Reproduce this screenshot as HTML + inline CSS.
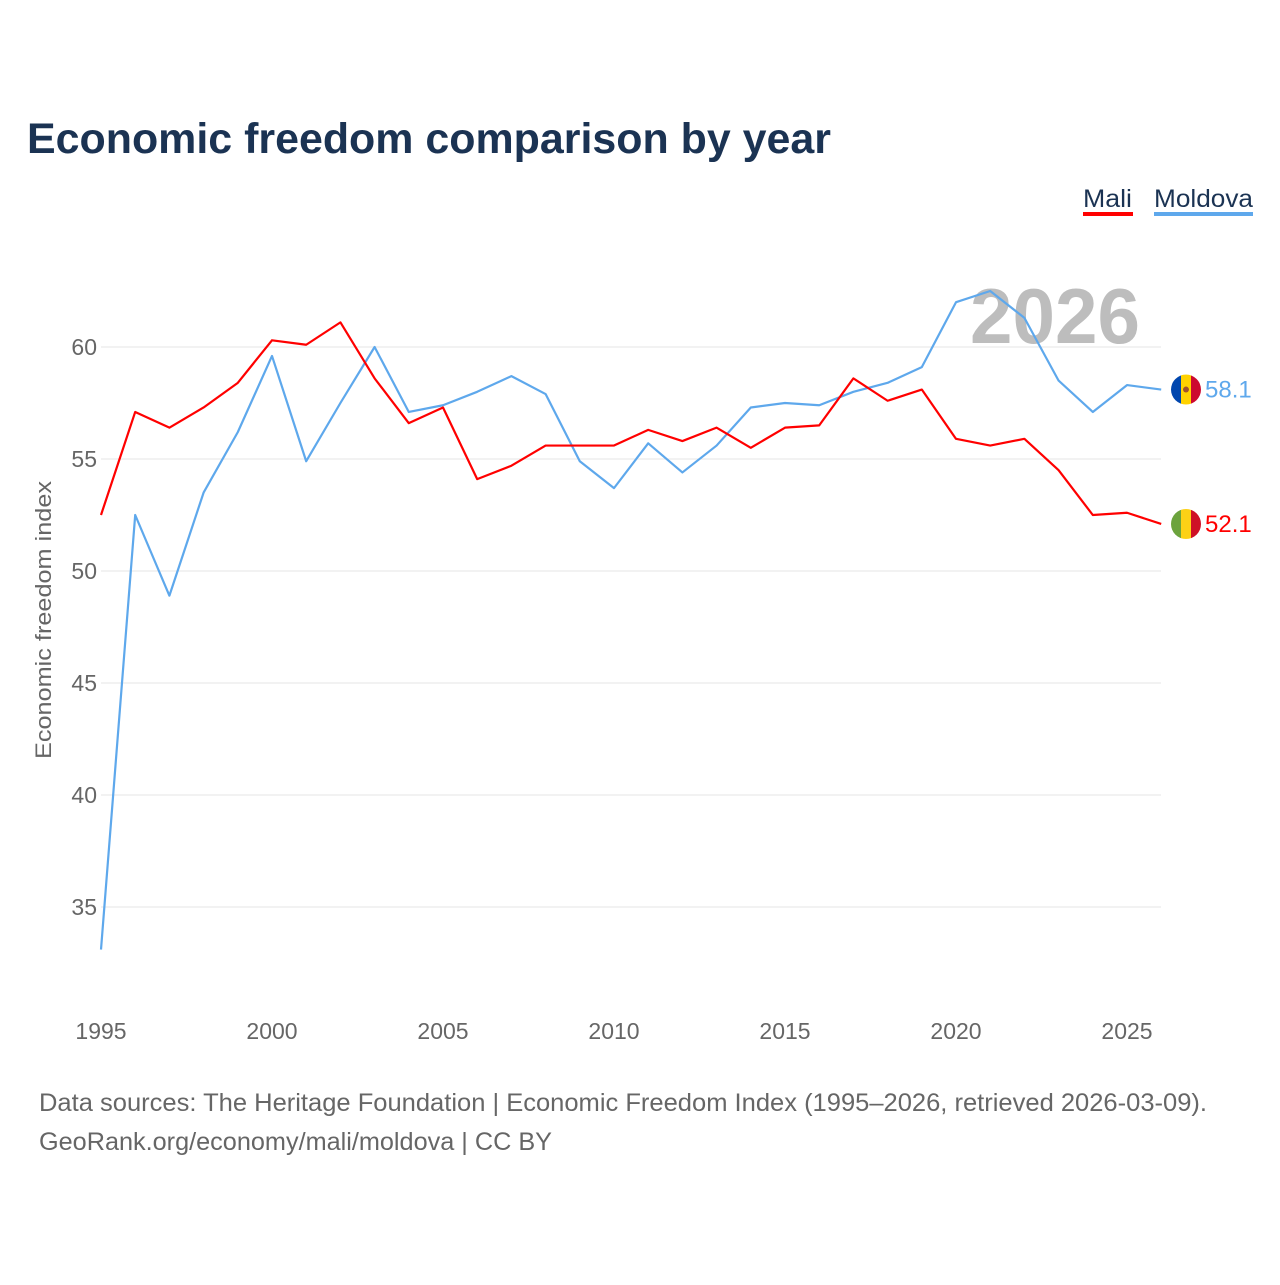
<!DOCTYPE html>
<html><head><meta charset="utf-8"><style>
body{margin:0;background:#fff;font-family:"Liberation Sans",sans-serif;}
</style></head><body>
<svg width="1280" height="1280" viewBox="0 0 1280 1280">
<text x="27" y="153" font-size="43" font-weight="bold" fill="#1b3353" textLength="804" lengthAdjust="spacingAndGlyphs">Economic freedom comparison by year</text>
<g>
<text x="1083" y="207" font-size="25" fill="#1b3353" textLength="49" lengthAdjust="spacingAndGlyphs">Mali</text>
<rect x="1083" y="212" width="50" height="4" fill="#ff0000"/>
<text x="1154" y="207" font-size="25" fill="#1b3353" textLength="99" lengthAdjust="spacingAndGlyphs">Moldova</text>
<rect x="1154" y="212" width="99" height="4" fill="#5ea8ec"/>
</g>
<text x="1140" y="343" text-anchor="end" font-size="78" font-weight="bold" fill="#bdbdbd" textLength="170" lengthAdjust="spacingAndGlyphs">2026</text>
<g id="grid"></g>
<g id="series"></g>
<text transform="translate(51,620) rotate(-90)" text-anchor="middle" font-size="22" fill="#666" textLength="278" lengthAdjust="spacingAndGlyphs">Economic freedom index</text>
<text x="39" y="1111" font-size="25" fill="#666" textLength="1168" lengthAdjust="spacingAndGlyphs">Data sources: The Heritage Foundation | Economic Freedom Index (1995–2026, retrieved 2026-03-09).</text>
<text x="39" y="1150" font-size="25" fill="#666" textLength="513" lengthAdjust="spacingAndGlyphs">GeoRank.org/economy/mali/moldova | CC BY</text>
</svg>
<script>
const years=[1995,1996,1997,1998,1999,2000,2001,2002,2003,2004,2005,2006,2007,2008,2009,2010,2011,2012,2013,2014,2015,2016,2017,2018,2019,2020,2021,2022,2023,2024,2025,2026];
const mali=[52.5,57.1,56.4,57.3,58.4,60.3,60.1,61.1,58.6,56.6,57.3,54.1,54.7,55.6,55.6,55.6,56.3,55.8,56.4,55.5,56.4,56.5,58.6,57.6,58.1,55.9,55.6,55.9,54.5,52.5,52.6,52.1];
const moldova=[33.1,52.5,48.9,53.5,56.2,59.6,54.9,57.5,60.0,57.1,57.4,58.0,58.7,57.9,54.9,53.7,55.7,54.4,55.6,57.3,57.5,57.4,58.0,58.4,59.1,62.0,62.5,61.3,58.5,57.1,58.3,58.1];
const yTicks=[35,40,45,50,55,60];
const xTicks=[1995,2000,2005,2010,2015,2020,2025];
const NS="http://www.w3.org/2000/svg";
const X=y=>101+(y-1995)*34.2;
const Y=v=>347+(60-v)*22.4;
function mk(t,a,p){const e=document.createElementNS(NS,t);for(const k in a)e.setAttribute(k,a[k]);p.appendChild(e);return e;}
const grid=document.getElementById('grid');
yTicks.forEach(v=>{
 const l=mk('line',{x1:101,x2:1161,y1:Y(v),y2:Y(v),stroke:'#e6e6e6','stroke-width':1},grid);
 
 
 const t=mk('text',{x:97,y:Y(v)+8,'text-anchor':'end','font-size':23,fill:'#666'},grid);t.textContent=v;
 
 
});
xTicks.forEach(v=>{
 const t=mk('text',{x:X(v),y:1039,'text-anchor':'middle','font-size':23,fill:'#666'},grid);t.textContent=v;
 
 
});
const s=document.getElementById('series');
function line(vals,col,name){
 const p=mk('polyline',{points:vals.map((v,i)=>X(years[i])+','+Y(v)).join(' '),fill:'none',stroke:col,'stroke-width':2.2,'stroke-linejoin':'round'},s);
 
 
 const last=vals[vals.length-1];
 const t=mk('text',{x:1205,y:Y(last)+8,'font-size':24,fill:col},s);t.textContent=last.toFixed(1);
 
 
 return Y(last);
}
function flag(cy,cols,name){
 const g=mk('g',{},s);
 
 
 const cp=mk('clipPath',{id:'c'+name},g);mk('circle',{cx:1186,cy:cy,r:15},cp);
 cols.forEach((c,i)=>mk('rect',{x:1171+i*10,y:cy-15,width:10.5,height:30,fill:c,'clip-path':'url(#c'+name+')'},g));
}
const ym=line(moldova,'#5ea8ec','moldova');
const yl=line(mali,'#ff0000','mali');
flag(ym,['#0046ae','#ffd200','#cc092f'],'moldova');
mk('circle',{cx:1186,cy:ym,r:3,fill:'#a0522d'},s);
flag(yl,['#6ca33d','#fcd116','#ce1126'],'mali');
</script>
</body></html>
